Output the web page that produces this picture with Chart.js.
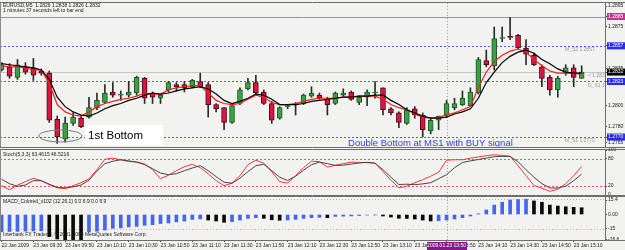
<!DOCTYPE html>
<html><head><meta charset="utf-8">
<script src="https://cdn.jsdelivr.net/npm/chart.js@4.4.1/dist/chart.umd.min.js"></script>
<style>
html,body{margin:0;padding:0;background:#f2f2f0;}
#wrap{position:relative;width:625px;height:250px;overflow:hidden;background:#f2f2f0}
canvas{position:absolute;left:0;}
</style></head><body>
<div id="wrap">
<canvas id="cMain" width="625" height="148" style="top:0"></canvas>
<canvas id="cStoch" width="625" height="52" style="top:148px"></canvas>
<canvas id="cMacd" width="625" height="54" style="top:196px"></canvas>
</div>
<script>
// ---------- DATA (EURUSD M5, 23 Jan 2009) ----------
const opens = [1.2834,1.2837,1.2827,1.2837,1.2836,1.2833,1.2831,1.2787,1.2768,1.2783,
 1.2788,1.2789,1.2798,1.2803,1.2813,1.2810,1.2810,1.2812,1.2826,1.2812,
 1.2807,1.2815,1.2820,1.2820,1.2818,1.2823,1.2820,1.2801,1.2798,1.2784,
 1.2802,1.2816,1.2822,1.2813,1.2802,1.2788,1.2799,1.2801,1.2802,1.2809,
 1.2810,1.2806,1.2802,1.2810,1.2813,1.2803,1.2808,1.2812,1.2817,1.2797,
 1.2793,1.2783,1.2797,1.2791,1.2776,1.2786,1.2791,1.2798,1.2801,1.2800,
 1.2812,1.2843,1.2838,1.2864,1.2866,1.2867,1.2855,1.2848,1.2837,1.2827,
 1.2815,1.2831,1.2836,1.2826];
const highs = [1.2841,1.2840,1.2844,1.2841,1.2845,1.2835,1.2833,1.2790,1.2789,1.2793,
 1.2791,1.2808,1.2812,1.2820,1.2822,1.2814,1.2823,1.2828,1.2827,1.2813,
 1.2811,1.2823,1.2822,1.2823,1.2825,1.2831,1.2822,1.2802,1.2798,1.2801,
 1.2817,1.2826,1.2829,1.2815,1.2804,1.2799,1.2801,1.2803,1.2811,1.2818,
 1.2812,1.2808,1.2813,1.2816,1.2814,1.2809,1.2815,1.2823,1.2817,1.2798,
 1.2794,1.2798,1.2799,1.2793,1.2788,1.2790,1.2805,1.2807,1.2814,1.2817,
 1.2846,1.2853,1.2875,1.2875,1.2884,1.2868,1.2863,1.2850,1.2839,1.2829,
 1.2828,1.2839,1.2839,1.2838];
const lows = [1.2833,1.2826,1.2825,1.2830,1.2824,1.2829,1.2784,1.2764,1.2765,1.2781,
 1.2779,1.2788,1.2796,1.2802,1.2808,1.2805,1.2808,1.2810,1.2802,1.2802,
 1.2802,1.2813,1.2814,1.2813,1.2817,1.2817,1.2789,1.2794,1.2777,1.2783,
 1.2801,1.2815,1.2810,1.2801,1.2783,1.2787,1.2797,1.2791,1.2801,1.2808,
 1.2806,1.2791,1.2801,1.2809,1.2805,1.2801,1.2800,1.2807,1.2791,1.2791,
 1.2779,1.2782,1.2788,1.2770,1.2773,1.2777,1.2789,1.2796,1.2800,1.2800,
 1.2811,1.2837,1.2834,1.2861,1.2863,1.2854,1.2839,1.2838,1.2818,1.2810,
 1.2808,1.2829,1.2818,1.2826];
const closes = [1.2839,1.2828,1.2839,1.2832,1.2829,1.2831,1.2786,1.2770,1.2783,1.2789,
 1.2780,1.2798,1.2805,1.2812,1.2810,1.2810,1.2813,1.2827,1.2807,1.2808,
 1.2810,1.2822,1.2818,1.2817,1.2824,1.2818,1.2801,1.2797,1.2784,1.2800,
 1.2815,1.2822,1.2812,1.2802,1.2786,1.2798,1.2800,1.2801,1.2810,1.2812,
 1.2807,1.2801,1.2812,1.2812,1.2806,1.2808,1.2813,1.2812,1.2796,1.2793,
 1.2784,1.2796,1.2791,1.2777,1.2786,1.2790,1.2802,1.2802,1.2807,1.2813,
 1.2844,1.2839,1.2864,1.2865,1.2865,1.2855,1.2849,1.2839,1.2826,1.2815,
 1.2826,1.2836,1.2827,1.2832];
const maFast = [1.2838,1.2837,1.2837,1.2836,1.2834,1.2834,1.2821,1.2801,1.2794,1.2791,
 1.2790,1.2794,1.2799,1.2802,1.2804,1.2806,1.2807,1.2809,1.2812,1.2811,
 1.2811,1.2815,1.2817,1.2818,1.2819,1.2819,1.2812,1.2805,1.2802,1.2801,
 1.2802,1.2806,1.2810,1.2808,1.2803,1.2801,1.2801,1.2802,1.2804,1.2806,
 1.2807,1.2807,1.2807,1.2808,1.2808,1.2809,1.2809,1.2809,1.2806,1.2801,
 1.2798,1.2796,1.2792,1.2789,1.2788,1.2789,1.2791,1.2793,1.2796,1.2799,
 1.2817,1.2832,1.2842,1.2848,1.2852,1.2854,1.2851,1.2844,1.2838,1.2833,
 1.2831,1.2831,1.2831,1.2830];
const maSlow = [1.2840,1.2839,1.2838,1.2837,1.2836,1.2834,1.2825,1.2808,1.2799,1.2794,
 1.2791,1.2790,1.2793,1.2797,1.2800,1.2802,1.2805,1.2807,1.2810,1.2812,
 1.2811,1.2812,1.2814,1.2816,1.2817,1.2818,1.2816,1.2811,1.2805,1.2802,
 1.2804,1.2807,1.2811,1.2810,1.2806,1.2801,1.2801,1.2801,1.2802,1.2804,
 1.2805,1.2806,1.2807,1.2808,1.2808,1.2809,1.2809,1.2810,1.2810,1.2805,
 1.2801,1.2796,1.2793,1.2790,1.2788,1.2788,1.2789,1.2792,1.2794,1.2797,
 1.2807,1.2822,1.2832,1.2841,1.2847,1.2851,1.2853,1.2850,1.2844,1.2840,
 1.2835,1.2832,1.2831,1.2831];
const stochMain = [20.7,11.8,21.8,29.6,37.3,31.8,22.9,16.2,14.0,20.7,
 27.3,36.0,56.2,79.6,81.8,78.4,74.4,73.8,68.9,56.2,
 36.2,44.0,54.0,62.9,68.2,60.7,47.3,31.8,20.7,26.2,
 42.9,67.3,77.3,70.7,51.8,29.6,26.7,42.9,60.7,75.1,
 74.0,61.8,66.2,69.6,73.1,72.4,71.8,70.9,51.8,32.9,
 16.2,19.8,27.3,34.0,41.8,50.7,77.3,78.4,78.4,81.8,
 84.7,87.3,89.3,88.0,85.8,65.1,42.9,21.1,15.1,8.2,
 12.9,25.1,42.9,63.4615];
const stochSignal = [35.1,25.1,19.3,22.2,31.8,31.8,24.0,16.9,15.8,18.0,
 22.2,32.9,52.9,69.6,75.1,78.2,75.8,72.9,67.6,58.4,
 48.7,45.1,47.3,54.0,60.0,65.1,54.0,40.7,28.4,26.2,
 37.3,51.8,65.1,68.4,54.0,39.6,32.2,41.8,55.1,67.3,
 73.1,69.6,65.8,66.2,68.9,71.1,72.7,70.7,56.2,39.6,
 23.3,24.0,22.9,24.7,27.3,36.2,45.1,60.7,72.2,75.8,
 78.9,82.0,85.1,85.8,85.8,74.0,56.2,39.6,25.1,15.6,
 15.6,19.6,31.8,46.5216];
const macdHist = [-18.4,-18.1,-17.9,-17.7,-17.5,-17.3,-23.5,-26.0,-26.8,-27.0,
 -27.2,-18.5,-17.8,-16.5,-14.7,-14.2,-13.2,-12.6,-11.4,-10.8,
 -9.6,-9.0,-7.8,-7.0,-5.2,-4.6,-5.9,-6.9,-8.3,-7.6,
 -5.9,-4.1,-3.4,-4.1,-5.6,-6.1,-5.8,-5.1,-4.1,-3.4,
 -3.0,-3.4,-2.0,-1.8,-1.5,-1.1,-0.6,-0.4,-1.6,-2.7,
 -4.0,-4.2,-4.8,-5.9,-6.9,-6.6,-5.9,-4.8,-3.4,-1.6,
 0.8,4.8,10.0,13.0,15.4,15.9,16.2,14.4,13.0,10.0,
 9.0,8.3,7.6,7.2];
const timeTickIdx = [0,4,8,12,16,20,24,28,32,36,40,44,48,52,56,60,64,68,72];
const timeLabels = ['22 Jan 2009','23 Jan 09:30','23 Jan 09:50','23 Jan 10:10','23 Jan 10:30',
 '23 Jan 10:50','23 Jan 11:10','23 Jan 11:30','23 Jan 11:50','23 Jan 12:10','23 Jan 12:30',
 '23 Jan 12:50','23 Jan 13:10','23 Jan 13:30','23 Jan 13:50','23 Jan 14:10','23 Jan 14:30',
 '23 Jan 14:50','23 Jan 15:10'];
const priceTicks = [1.2895,1.2875,1.2835,1.2800,1.2780,1.2765];
const upperLevel = 1.2885;
const pivotLevels = [1.2857,1.2823,1.2770];
const pivotNames = ['M_S2','D_S1','M_S1'];
const stochLevels = [80,20];
const stochTicks = [100,80,20,0];
const macdTicks = [15.4,0,-15,-26.6];
const macdTickLabels = ['15.4','0.00','-15','-26.6'];
const macdLevels = [17,-15];
const cursorIndex = 56;
const cursorLabel = '2009.01.23 13:50';

// ---------- STYLE / HELPERS ----------
const F = '"Liberation Sans", Arial, Helvetica, sans-serif';
const XMIN = -0.2, XMAX = 75.94, AXIS_W = 20;
const GREEN = '#3a9f46', GREEN_E = '#1e5a22', RED = '#dc1442', RED_E = '#4a0a16';
const N = opens.length;
const idx = opens.map((_, i) => i);
const up = i => closes[i] >= opens[i];
const bidPrice = closes[N - 1];
const near = (a, b) => Math.abs(a - b) < 1e-6;

function hLine(ctx, y0, x0, x1, color, dash) {
  ctx.save(); ctx.strokeStyle = color; ctx.lineWidth = 1; ctx.setLineDash(dash || []);
  const yy = Math.round(y0) + 0.5;
  ctx.beginPath(); ctx.moveTo(x0, yy); ctx.lineTo(x1, yy); ctx.stroke(); ctx.restore();
}
function crosshair(chart) {
  const {ctx, chartArea: a, scales: {x}} = chart;
  const cx = Math.round(x.getPixelForValue(cursorIndex)) + 0.5;
  ctx.save(); ctx.strokeStyle = '#e07aae'; ctx.lineWidth = 1; ctx.setLineDash([1, 2]);
  ctx.beginPath(); ctx.moveTo(cx, a.top); ctx.lineTo(cx, a.bottom); ctx.stroke(); ctx.restore();
}
function frame(chart) {
  const {ctx, chartArea: a, width} = chart;
  hLine(ctx, a.top - 1, 0, width, '#6e6e6e');
  hLine(ctx, a.bottom, 0, width, '#6e6e6e');
  ctx.save(); ctx.strokeStyle = '#8a8a8a'; ctx.beginPath(); ctx.moveTo(0.5, a.top); ctx.lineTo(0.5, a.bottom); ctx.stroke(); ctx.restore();
}
function text(ctx, s, x, y, size, color, align) {
  ctx.save(); ctx.font = size + 'px ' + F; ctx.fillStyle = color; ctx.textBaseline = 'middle';
  ctx.textAlign = align || 'left'; ctx.fillText(s, x, y); ctx.restore();
}
function noPad(s) { s.paddingTop = 0; s.paddingBottom = 0; s.paddingLeft = 0; s.paddingRight = 0; }

const common = {
  responsive: false, animation: false, devicePixelRatio: 1, events: [],
  plugins: {legend: {display: false}, tooltip: {enabled: false}}
};
function xScale(show) {
  const s = {type: 'linear', min: XMIN, max: XMAX, offset: false, display: show,
    grid: {display: show, drawOnChartArea: false, offset: false, tickLength: 2, color: '#444'},
    border: {display: show, color: '#6e6e6e'}};
  if (show) {
    s.afterBuildTicks = sc => { sc.ticks = timeTickIdx.map(v => ({value: v})); };
    s.afterFit = sc => { sc.height = 10; noPad(sc); };
    s.ticks = {autoSkip: false, align: 'start', maxRotation: 0, minRotation: 0, padding: 1,
      font: {family: F, size: 5}, color: '#222', callback: (v, i) => timeLabels[i]};
  }
  return s;
}
function yScale(min, max, values, fmt, boxFn) {
  return {
    position: 'right', min, max,
    afterFit: s => { s.width = AXIS_W; noPad(s); },
    afterBuildTicks: s => { s.ticks = values.map(v => ({value: v})); },
    ticks: {
      autoSkip: false, padding: 1, font: {family: F, size: 5},
      color: c => (boxFn && boxFn(c.tick.value)) ? '#ffffff' : '#1a1a1a',
      showLabelBackdrop: c => !!(boxFn && boxFn(c.tick.value)),
      backdropColor: c => (boxFn && boxFn(c.tick.value)) || 'rgba(0,0,0,0)',
      backdropPadding: {top: 0.5, bottom: 0.5, left: 1, right: 5},
      callback: fmt
    },
    grid: {drawOnChartArea: false, tickLength: 2, color: '#444'},
    border: {color: '#6e6e6e'}
  };
}

// ---------- MAIN PRICE PANEL ----------
const mainAxisValues = [...priceTicks, upperLevel, ...pivotLevels, bidPrice];
const priceBox = v => near(v, upperLevel) ? '#c8338f'
  : pivotLevels.some(p => near(p, v)) ? '#2b2bf0'
  : near(v, bidPrice) ? '#000000' : null;

const mainDecor = {
  id: 'mainDecor',
  beforeDatasetsDraw(chart) {
    const {ctx, chartArea: a, scales: {x, y}} = chart;
    ctx.save(); ctx.beginPath(); ctx.rect(a.left, a.top, a.right - a.left, a.bottom - a.top); ctx.clip();
    hLine(ctx, y.getPixelForValue(bidPrice), a.left, a.right, '#c6c6c6');
    hLine(ctx, y.getPixelForValue(upperLevel), a.left, a.right, '#d6749f');
    pivotLevels.forEach(v => hLine(ctx, y.getPixelForValue(v), a.left, a.right, '#5656ee', [2, 2]));
    ctx.restore();
    crosshair(chart);
  },
  afterDatasetsDraw(chart) {
    const {ctx, chartArea: a, scales: {x, y}} = chart;
    ctx.save(); ctx.beginPath(); ctx.rect(a.left, a.top, a.right - a.left, a.bottom - a.top); ctx.clip();
    // pivot labels
    pivotLevels.forEach((v, k) => {
      const px = k === 1 ? x.getPixelForValue(73.8) : x.getPixelForValue(70.9);
      text(ctx, pivotNames[k] + ' ' + v.toFixed(4), px, y.getPixelForValue(v) + 4, 5, '#9a9a9a');
    });
    text(ctx, '< ' + (bidPrice + 0.0005).toFixed(4), x.getPixelForValue(73.8), y.getPixelForValue(bidPrice) + 4, 5, '#9a9a9a');
    // ellipse around 1st bottom
    ctx.strokeStyle = '#7c7c7c'; ctx.lineWidth = 1;
    ctx.beginPath(); ctx.ellipse(x.getPixelForValue(7.4), y.getPixelForValue(1.2771), 21.5, 6, 0, 0, Math.PI * 2); ctx.stroke();
    // 1st Bottom box
    const bx0 = x.getPixelForValue(10.5), bx1 = x.getPixelForValue(20.3);
    const by0 = y.getPixelForValue(1.27815), by1 = y.getPixelForValue(1.2762);
    ctx.fillStyle = '#ffffff'; ctx.fillRect(bx0, by0, bx1 - bx0, by1 - by0);
    text(ctx, '1st Bottom', bx0 + 3, (by0 + by1) / 2 + 0.5, 11.5, '#000000');
    text(ctx, 'Double Bottom at MS1 with BUY signal', x.getPixelForValue(43.6), y.getPixelForValue(1.27643), 9.5, '#3b3bd4');
    ctx.restore();
    const L = N - 1;
    text(ctx, 'EURUSD,M5  ' + [opens[L], highs[L], lows[L], closes[L]].map(v => v.toFixed(4)).join(' '), 3, a.top + 2.5, 5, '#1a1a1a');
    text(ctx, '1 minutes 37 seconds left to bar end', 3, a.top + 8, 5, '#1a1a1a');
    frame(chart);
  }
};

new Chart(document.getElementById('cMain'), {
  type: 'bar',
  data: {datasets: [
    {type: 'line', data: idx.map(i => ({x: i, y: maSlow[i]})), borderColor: '#000000', borderWidth: 1.2, pointRadius: 0, order: 0},
    {type: 'line', data: idx.map(i => ({x: i, y: maFast[i]})), borderColor: '#ff1c1c', borderWidth: 1.2, pointRadius: 0, order: 1},
    {type: 'bar', data: idx.map(i => ({x: i, y: [opens[i], closes[i]]})), grouped: false, barThickness: 5, minBarLength: 1,
      borderWidth: 1, borderSkipped: false,
      backgroundColor: c => up(c.dataIndex) ? GREEN : RED, borderColor: c => up(c.dataIndex) ? GREEN_E : RED_E, order: 2},
    {type: 'bar', data: idx.map(i => ({x: i, y: [lows[i], highs[i]]})), grouped: false, barThickness: 1,
      backgroundColor: '#2a2a2a', order: 3}
  ]},
  options: Object.assign({}, common, {
    layout: {padding: {left: 0, right: 0, top: 3, bottom: 1}},
    scales: {x: xScale(false), y: yScale(1.27605, 1.28979, mainAxisValues, v => v.toFixed(4), priceBox)}
  }),
  plugins: [mainDecor]
});

// ---------- STOCHASTIC PANEL ----------
const stochDecor = {
  id: 'stochDecor',
  beforeDatasetsDraw(chart) {
    const {ctx, chartArea: a, scales: {y}} = chart;
    stochLevels.forEach(v => hLine(ctx, y.getPixelForValue(v), a.left, a.right, '#e85a5a', [2, 2]));
    crosshair(chart);
  },
  afterDatasetsDraw(chart) {
    const {ctx, chartArea: a} = chart;
    text(ctx, 'Stoch(5,3,3) ' + stochMain[N - 1].toFixed(4) + ' ' + stochSignal[N - 1].toFixed(4), 3, a.top + 4.5, 5, '#1a1a1a');
    frame(chart);
  }
};
new Chart(document.getElementById('cStoch'), {
  type: 'line',
  data: {datasets: [
    {data: idx.map(i => ({x: i, y: stochSignal[i]})), borderColor: '#444444', borderWidth: 1, pointRadius: 0},
    {data: idx.map(i => ({x: i, y: stochMain[i]})), borderColor: '#ff3434', borderWidth: 1, pointRadius: 0}
  ]},
  options: Object.assign({}, common, {
    layout: {padding: {left: 0, right: 0, top: 2, bottom: 5}},
    scales: {x: xScale(false), y: yScale(0, 100, stochTicks, v => String(v), null)}
  }),
  plugins: [stochDecor]
});

// ---------- MACD PANEL ----------
const macdDecor = {
  id: 'macdDecor',
  beforeDatasetsDraw(chart) {
    const {ctx, chartArea: a, scales: {y}} = chart;
    hLine(ctx, y.getPixelForValue(macdLevels[0]), a.left, a.right, '#b4b4b4', [1, 2]);
    hLine(ctx, y.getPixelForValue(macdLevels[1]), a.left, a.right, '#e6a2b8', [1, 2]);
    crosshair(chart);
  },
  afterDatasetsDraw(chart) {
    const {ctx, chartArea: a} = chart;
    text(ctx, 'MACD_Colored_v102 (12,26,1) 0.0 6.9 0.0 6.9', 3, a.top + 5, 5, '#1a1a1a');
    text(ctx, 'Interbank FX Trader 4, \u00A9 2001-2009 MetaQuotes Software Corp.', 3, a.bottom - 5, 5, '#1a1a1a');
    frame(chart);
  },
  afterDraw(chart) {
    const {ctx, chartArea: a, scales: {x}} = chart;
    const cx = x.getPixelForValue(cursorIndex);
    ctx.save(); ctx.fillStyle = '#86198a'; ctx.fillRect(Math.round(cx - 20), a.bottom + 2, 40, 8); ctx.restore();
    text(ctx, cursorLabel, cx, a.bottom + 6, 5, '#ffffff', 'center');
  }
};
new Chart(document.getElementById('cMacd'), {
  type: 'bar',
  data: {datasets: [
    {data: idx.map(i => ({x: i, y: macdHist[i]})), grouped: false, barThickness: 3,
      backgroundColor: c => (c.dataIndex === 0 || macdHist[c.dataIndex] >= macdHist[c.dataIndex - 1]) ? '#4466ee' : '#0a0a0a'}
  ]},
  options: Object.assign({}, common, {
    layout: {padding: {left: 0, right: 0, top: 1, bottom: 0}},
    scales: {x: xScale(true), y: yScale(-27.1, 18.6, macdTicks, (v, i) => macdTickLabels[i], null)}
  }),
  plugins: [macdDecor]
});
</script>
</body></html>
